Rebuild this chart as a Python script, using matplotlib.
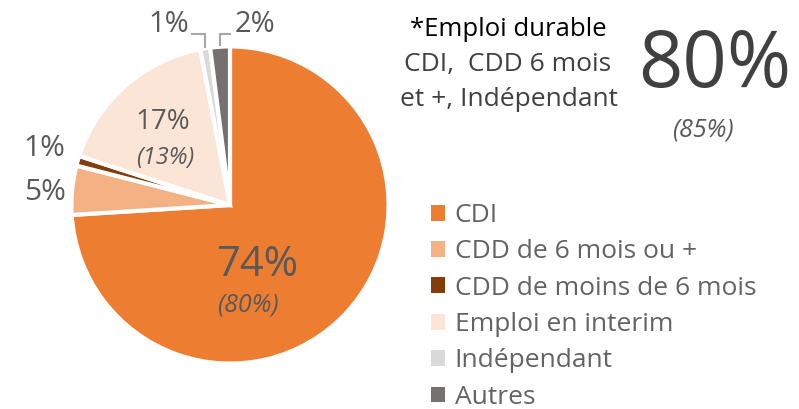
import matplotlib
matplotlib.use('Agg')
from matplotlib import pyplot as plt
from matplotlib.patches import Patch
import numpy as np

plt.rcParams['font.family'] = ['Open Sans', 'DejaVu Sans']

categories = ['CDI', 'CDD de 6 mois ou +', 'CDD de moins de 6 mois',
              'Emploi en interim', 'Indépendant', 'Autres']
values = [74, 5, 1, 17, 1, 2]
previous = ['(80%)', None, None, '(13%)', None, None]
colors = ['#ED7D31', '#F4B183', '#843C0C', '#FBE5D6', '#D9D9D9', '#767171']

durable = 80
durable_prev = 85

txt = '#595959'

fig = plt.figure(figsize=(7.99, 4.09), dpi=100)
ax = fig.add_axes([73 / 799, 47 / 409, 314 / 799, 314 / 409])

wedges, _ = ax.pie(values, colors=colors, startangle=90, counterclock=False,
                   radius=1.01,
                   wedgeprops=dict(edgecolor='white', linewidth=3))
ax.set_xlim(-1, 1)
ax.set_ylim(-1, 1)
ax.set_aspect('equal')

# labels inside the big slices
ax.text(0.17, -0.38, '74%', fontsize=30, color=txt, ha='center', va='center')
ax.text(0.115, -0.64, previous[0], fontsize=18, color=txt, style='italic',
        ha='center', va='center')
ax.text(-0.43, 0.53, '17%', fontsize=20, color=txt, ha='center', va='center')
ax.text(-0.41, 0.30, previous[3], fontsize=17, color=txt, style='italic',
        ha='center', va='center')

# small slices on the left
ax.text(-1.18, 0.36, '%d%%' % values[2], fontsize=21.5, color=txt, ha='center', va='center')
ax.text(-1.18, 0.08, '%d%%' % values[1], fontsize=21.5, color=txt, ha='center', va='center')

# small slices at the top, with leader lines
for i, lx, tx in [(4, -0.24, -0.39), (5, 0.0, 0.16)]:
    w = wedges[i]
    mid = np.deg2rad((w.theta1 + w.theta2) / 2)
    ex, ey = np.cos(mid), np.sin(mid)
    ax.plot([lx, ex, ex], [1.09, 1.09, ey + 0.02], color='#A6A6A6', lw=1.5,
            clip_on=False)
    ax.text(tx, 1.15, '%d%%' % values[i], fontsize=21, color=txt,
            ha='center', va='center')

handles = [Patch(facecolor=c, edgecolor='none') for c in colors]
leg = fig.legend(handles, categories, loc='upper left',
                 bbox_to_anchor=(431 / 799, 1 - 203 / 409), frameon=False,
                 fontsize=19, labelcolor='#636363', handlelength=0.54, handleheight=0.54,
                 handletextpad=0.36, labelspacing=0.43, borderpad=0, borderaxespad=0)

fig.text(508 / 799, 1 - 29 / 409, '*Emploi durable', fontsize=18.5, color='black',
         ha='center', va='center')
fig.text(508 / 799, 1 - 65 / 409, 'CDI,  CDD 6 mois', fontsize=19, color='#404040',
         ha='center', va='center')
fig.text(509 / 799, 1 - 100 / 409, 'et +, Indépendant', fontsize=19, color='#404040',
         ha='center', va='center')
fig.text(715 / 799, 1 - 66 / 409, '%d%%' % durable, fontsize=56, color='#404040',
         ha='center', va='center')
fig.text(703 / 799, 1 - 130 / 409, '(%d%%)' % durable_prev, fontsize=18,
         color=txt, style='italic', ha='center', va='center')

fig.savefig('out.png', dpi=100)
